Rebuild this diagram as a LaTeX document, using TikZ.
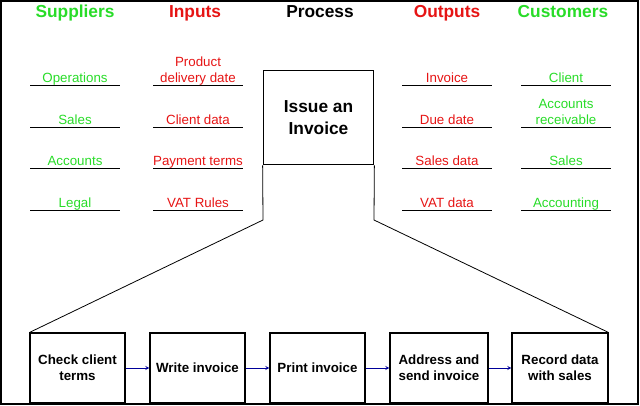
\documentclass[tikz,border=0pt]{standalone}
\usepackage{fontspec}
\setmainfont{Liberation Sans}
\begin{document}
\begin{tikzpicture}[x=0.75pt,y=-0.75pt,
  hd/.style={font=\fontsize{13}{15}\selectfont\bfseries,anchor=base},
  lb/.style={font=\fontsize{10}{12}\selectfont,align=center,anchor=base},
  ul/.style={line width=0.6pt},
  bx/.style={draw,line width=0.8pt,minimum width=71.25pt,minimum height=52.5pt,align=center,font=\fontsize{10}{12}\selectfont\bfseries},
  ar/.style={->,>=stealth,blue!60!black,line width=0.4pt}]
\definecolor{gr}{RGB}{40,220,40}
\definecolor{rd}{RGB}{230,20,20}
\useasboundingbox (0,0) rectangle (640,406);
\draw[line width=0.8pt] (1,1) rectangle (638,404);
\node[hd,gr] (h1) at (75,18) {Suppliers};
\node[hd,rd] (h2) at (195,18) {Inputs};
\node[hd] (h3) at (320,18) {Process};
\node[hd,rd] (h4) at (447,18) {Outputs};
\node[hd,gr] (h5) at (563,18) {Customers};
\foreach \x/\c/\a/\b/\cc/\d [count=\i] in {75/gr/Operations/Sales/Accounts/Legal,
  198/rd/{Product\\delivery date}/Client data/Payment terms/VAT Rules,
  447/rd/Invoice/Due date/Sales data/VAT data,
  566/gr/Client/{Accounts\\receivable}/Sales/Accounting}{
  \foreach \t/\y [count=\j] in {\a/85,\b/127,\cc/168,\d/210}{
    \draw[ul] (\x-45,\y) -- (\x+45,\y);
    \node[lb,text=\c,inner sep=0pt] (l\i\j) at (\x,\y-2.5) {\t};
  }
}
\node[draw,line width=0.8pt,minimum width=83pt,minimum height=71pt,align=center,font=\fontsize{13}{16}\selectfont\bfseries] (p) at (318.5,117.5) {Issue an\\Invoice};
\node[bx] (b1) at (77.5,368) {Check client\\terms};
\node[bx] (b2) at (197.5,368) {Write invoice};
\node[bx] (b3) at (317.5,368) {Print invoice};
\node[bx,minimum width=73.5pt] (b4) at (439,368) {Address and\\send invoice};
\node[bx,minimum width=72pt] (b5) at (560,368) {Record data\\with sales};
\draw[line width=0.6pt] (p.south west) -- (263,220) -- (b1.north west);
\draw[line width=0.6pt] (p.south east) -- (374,220) -- (b5.north east);
\draw[ar] (b1) -- (b2);
\draw[ar] (b2) -- (b3);
\draw[ar] (b3) -- (b4);
\draw[ar] (b4) -- (b5);
\end{tikzpicture}
\end{document}
